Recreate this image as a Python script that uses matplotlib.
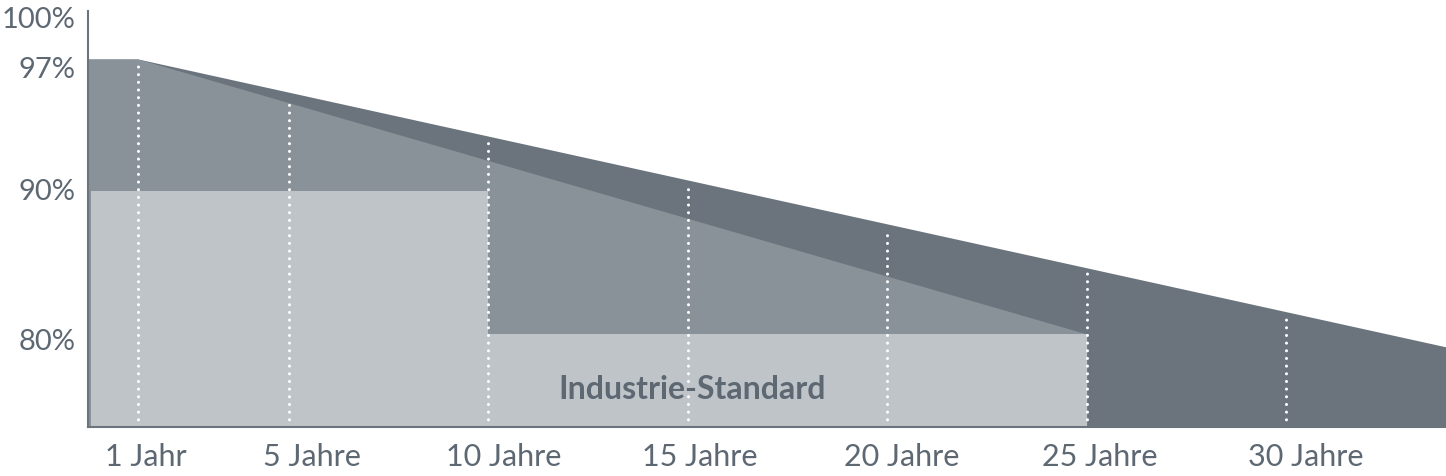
import numpy as np
import matplotlib.pyplot as plt
import matplotlib.transforms as mtransforms

# Daten
jahre_ticks = [1, 5, 10, 15, 20, 25, 30]
jahre_labels = ['1 Jahr', '5 Jahre', '10 Jahre', '15 Jahre', '20 Jahre', '25 Jahre', '30 Jahre']
prozent_ticks = [80, 90, 97, 100]
prozent_labels = ['80%', '90%', '97%', '100%']

# Produktgarantie (oberste Flaeche)
produkt_x = [0, 1, 34]
produkt_y = [97, 97, 79.1]

# lineare Leistungsgarantie
linear_x = [0, 1, 25]
linear_y = [97, 97, 80]

# Industrie-Standard (Stufe)
standard_x = [0.05, 10, 10, 25]
standard_y = [90, 90, 80, 80]

# Skalen (Grafik ist nicht massstabsgetreu)
x_anker = [0, 1, 5, 34]
x_pix = [0, 50, 200.5, 1358]
y_anker = [73.5, 80, 90, 97, 100]
y_pix = [0, 93, 236, 368, 416]


def x_fwd(v):
    return np.interp(v, x_anker, x_pix)


def x_inv(p):
    return np.interp(p, x_pix, x_anker)


def y_fwd(v):
    return np.interp(v, y_anker, y_pix)


def y_inv(p):
    return np.interp(p, y_pix, y_anker)


dunkel = '#6b747d'
mittel = '#8a9299'
hell = '#bfc4c8'
text_farbe = '#5d6873'

plt.rcParams['font.family'] = ['Lato', 'DejaVu Sans']

fig = plt.figure(figsize=(14.46, 4.77), dpi=100)
ax = fig.add_axes([88 / 1446, 49 / 477, 1358 / 1446, 416 / 477])
ax.set_xscale('function', functions=(x_fwd, x_inv))
ax.set_yscale('function', functions=(y_fwd, y_inv))

ax.fill_between(produkt_x, produkt_y, 73.5, color=dunkel, lw=0)
ax.fill_between(linear_x, linear_y, 73.5, color=mittel, lw=0)
ax.fill_between(standard_x, standard_y, 73.5, color=hell, lw=0)

# weisse gepunktete Linien bis zur Oberkante
for t in jahre_ticks:
    p = np.interp(x_fwd(t), x_fwd(np.array(produkt_x[1:])), y_fwd(np.array(produkt_y[1:])))
    oben = y_inv(p)
    ax.plot([t, t], [73.5, oben - 0.3], color='white', lw=2.2,
            linestyle=(0, (0.01, 2.5)), dash_capstyle='round')

ax.text(15.1, 76.2, 'Industrie-Standard', ha='center', va='center',
        fontsize=23, fontweight='bold', color=text_farbe)

ax.set_xlim(0, 34)
ax.set_ylim(73.5, 100)

ax.set_xticks(jahre_ticks)
ax.set_xticklabels(jahre_labels)
ax.set_yticks(prozent_ticks)
ax.set_yticklabels(prozent_labels)
ax.tick_params(length=0, labelcolor=text_farbe)
ax.tick_params(axis='x', pad=11, labelsize=22)
ax.tick_params(axis='y', pad=9, labelsize=21)

# Beschriftungen sitzen im Original leicht versetzt
x_versatz = [8, 23, 16, 12, 14, 13, 19]
for lbl, dx in zip(ax.get_xticklabels(), x_versatz):
    lbl.set_transform(lbl.get_transform() + mtransforms.ScaledTranslation(dx / 100, 0, fig.dpi_scale_trans))
y_versatz = [-5, 2, -8, -6]
for lbl, dy in zip(ax.get_yticklabels(), y_versatz):
    lbl.set_transform(lbl.get_transform() + mtransforms.ScaledTranslation(0, dy / 100, fig.dpi_scale_trans))

for s in ['top', 'right']:
    ax.spines[s].set_visible(False)
for s in ['left', 'bottom']:
    ax.spines[s].set_color(dunkel)
    ax.spines[s].set_linewidth(1.5)
ax.spines['left'].set_bounds(73.5, 100.2)
ax.spines['left'].set_zorder(5)

fig.savefig('out.png', dpi=100)
